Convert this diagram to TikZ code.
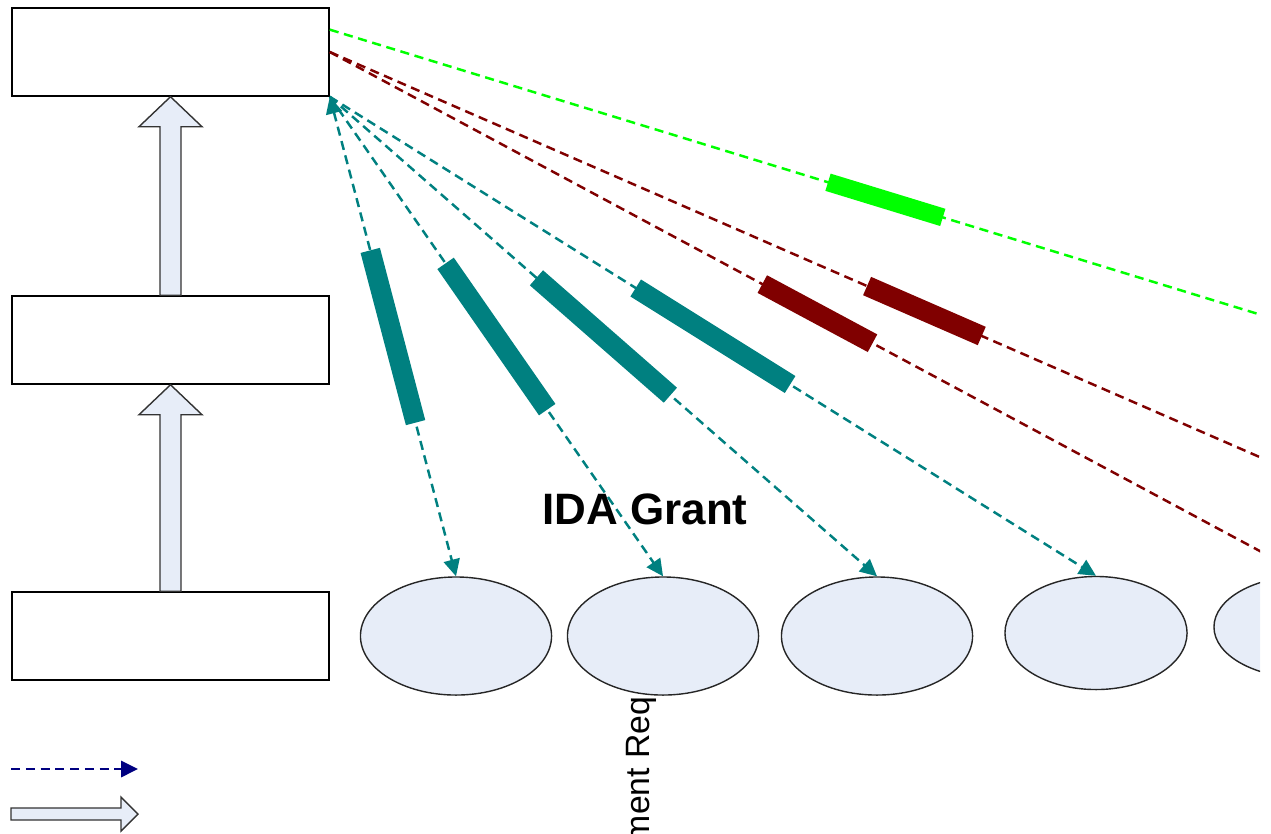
\documentclass[tikz,border=0pt]{standalone}
\usepackage{fontspec}
\setmainfont{Liberation Sans}
\usepackage{xcolor}
\usetikzlibrary{arrows.meta,positioning,calc,shapes.geometric}

\definecolor{paleblue}{RGB}{231,237,248}
\definecolor{tealline}{RGB}{0,128,128}
\definecolor{maroonline}{RGB}{128,0,0}
\definecolor{greenline}{RGB}{0,255,0}
\definecolor{navyline}{RGB}{0,0,128}

\begin{document}
\begin{tikzpicture}[x=0.01cm,y=-0.01cm,
  box/.style={draw,line width=0.4pt,fill=white,minimum width=3.17cm,minimum height=0.88cm,inner sep=0pt},
  unit/.style={ellipse,draw=black!85,line width=0.4pt,fill=paleblue,minimum width=1.91cm,minimum height=1.18cm,inner sep=0pt},
  link/.style={line width=0.7pt,dash pattern=on 2.6pt off 1.6pt},
  flow/.style={link,-{Triangle[length=4.8pt,width=4.6pt]}},
  flowboth/.style={link,{Triangle[length=4.8pt,width=4.6pt]}-{Triangle[length=4.8pt,width=4.6pt]}},
  bar/.style={sloped,inner sep=0pt,minimum height=0.2cm},
  lift/.style={draw=black!80,line width=0.4pt,fill=paleblue,line join=miter}]
  \useasboundingbox (0,0) rectangle (1271,833);
  \clip (0,0) rectangle (1260,833);

  % the three levels on the left
  \node[box] (boxTop) at (170.5,52) {};
  \node[box] (boxMid) at (170.5,340) {};
  \node[box] (boxBot) at (170.5,636) {};

  % block arrows between the levels
  \draw[lift] ($(boxMid.north)+(-10.5,0)$) -- ($(boxTop.south)+(-10.5,30)$)
    -- ($(boxTop.south)+(-31.5,30)$) -- (boxTop.south) -- ($(boxTop.south)+(31.5,30)$)
    -- ($(boxTop.south)+(10.5,30)$) -- ($(boxMid.north)+(10.5,0)$) -- cycle;
  \draw[lift] ($(boxBot.north)+(-10.5,0)$) -- ($(boxMid.south)+(-10.5,30)$)
    -- ($(boxMid.south)+(-31.5,30)$) -- (boxMid.south) -- ($(boxMid.south)+(31.5,30)$)
    -- ($(boxMid.south)+(10.5,30)$) -- ($(boxBot.north)+(10.5,0)$) -- cycle;

  % recipients along the bottom
  \node[unit] (ell1) at (456,636) {};
  \node[unit] (ell2) at (663,636) {};
  \node[unit] (ell3) at (877,636) {};
  \node[unit,minimum width=1.82cm,minimum height=1.13cm] (ell4) at (1096,633) {};
  \node[unit,minimum width=1.82cm,minimum height=1.02cm] (ell5) at (1305,627) {};

  % labels
  \node[font=\bfseries\fontsize{12.5}{15}\selectfont] (grant) at (645,509) {IDA Grant};
  \node[rotate=90,anchor=base east,inner sep=0pt,font=\fontsize{9.6}{11}\selectfont] (req) at (649,696) {ment Req};

  % ends of the long lines
  \coordinate (greenStart) at ($(boxTop.north east)!0.5!(boxTop.east)$);
  \coordinate (farRed) at (1519,570);
  \coordinate (farGreen) at (1441,370);

  % grant flows
  \draw[flowboth,tealline] (boxTop.south east) -- node[bar,fill=tealline,minimum width=1.78cm]{} (ell1.north);
  \draw[flow,tealline] (boxTop.south east) -- node[bar,fill=tealline,minimum width=1.78cm]{} (ell2.north);
  \draw[flow,tealline] (boxTop.south east) -- node[bar,fill=tealline,minimum width=1.78cm]{} (ell3.north);
  \draw[flow,tealline] (boxTop.south east) -- node[bar,fill=tealline,minimum width=1.82cm]{} (ell4.north);
  \draw[link,maroonline] (boxTop.east) -- node[bar,fill=maroonline,minimum width=1.25cm]{} (ell5.north);
  \draw[link,maroonline] (boxTop.east) -- node[bar,fill=maroonline,minimum width=1.25cm]{} (farRed);
  \draw[link,greenline] (greenStart) -- node[bar,fill=greenline,minimum width=1.2cm,minimum height=0.18cm]{} (farGreen);

  % legend
  \coordinate (keyA) at (11,769);
  \coordinate (keyB) at (138,769);
  \draw[flow,navyline] (keyA) -- (keyB);
  \draw[lift] (11,808) -- (121,808) -- (121,797) -- (138,814) -- (121,831) -- (121,820) -- (11,820) -- cycle;
\end{tikzpicture}
\end{document}
